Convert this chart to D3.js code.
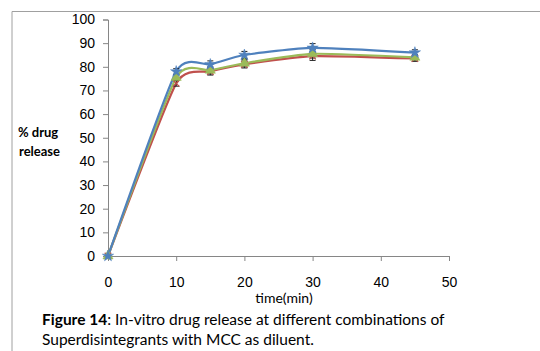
<!DOCTYPE html>
<html>
<head>
<meta charset="utf-8">
<script src="https://cdn.jsdelivr.net/npm/d3@7"></script>
<style>
  body { margin: 0; background: #fff; }
  svg { display: block; font-family: Lato, "Open Sans", sans-serif; }
</style>
</head>
<body>
<div id="plot"></div>
<script>
// data
const times = [0, 10, 15, 20, 30, 45];
const blueVals = [0, 78, 81, 85, 88, 86];
const redVals = [0, 73, 78, 81, 84.5, 83.5];
const greenVals = [0, 75.5, 78.5, 81.5, 85.5, 84];
const errVals = [0, 1.2, 1.5, 1.5, 1.8, 1.2];
const xTicks = [0, 10, 20, 30, 40, 50];
const yTicks = [0, 10, 20, 30, 40, 50, 60, 70, 80, 90, 100];

const series = [
  {name: "blue", vals: blueVals, color: "#4F81BD", marker: "star"},
  {name: "red", vals: redVals, color: "#C0504D", marker: "cross"},
  {name: "green", vals: greenVals, color: "#9BBB59", marker: "triangle"}
];

const W = 540, H = 351;
const svg = d3.select("#plot").append("svg")
    .attr("width", W).attr("height", H);

// frame around the figure
svg.append("path")
    .attr("d", "M12,351 L12,11.5 L540,11.5")
    .attr("fill", "none")
    .attr("stroke", "#a0a0a0")
    .attr("stroke-width", 1);

const x = d3.scaleLinear().domain([0, 50]).range([108, 449]);
const y = d3.scaleLinear().domain([0, 100]).range([256, 19.5]);

// y axis
const yAxis = svg.append("g")
    .attr("transform", "translate(108,0)")
    .call(d3.axisLeft(y).tickValues(yTicks).tickSize(5).tickPadding(8));
// x axis
const xAxis = svg.append("g")
    .attr("transform", "translate(0,256)")
    .call(d3.axisBottom(x).tickValues(xTicks).tickSize(5).tickPadding(16));

[yAxis, xAxis].forEach(a => {
  a.select(".domain").attr("stroke", "#868686");
  a.selectAll(".tick line").attr("stroke", "#868686");
  a.selectAll(".tick text").attr("fill", "#000").style("font-size", "14px");
});

// axis titles
svg.append("text")
    .attr("x", 284).attr("y", 303)
    .attr("text-anchor", "middle")
    .style("font-size", "14px")
    .text("time(min)");

svg.append("text")
    .attr("x", 18).attr("y", 137)
    .style("font-size", "13px").style("font-weight", "bold")
    .text("% drug");
svg.append("text")
    .attr("x", 19).attr("y", 156)
    .style("font-size", "13px").style("font-weight", "bold")
    .text("release");

// caption
const cap = svg.append("text")
    .attr("x", 42).attr("y", 325)
    .style("font-size", "15.5px");
cap.append("tspan").style("font-weight", "bold").text("Figure 14");
cap.append("tspan").text(": In-vitro drug release at different combinations of");
svg.append("text")
    .attr("x", 42).attr("y", 345)
    .style("font-size", "15.5px")
    .text("Superdisintegrants with MCC as diluent.");

// lines
const line = d3.line()
    .x((d, i) => x(times[i]))
    .y(d => y(d))
    .curve(d3.curveCardinal.tension(0.45));

const order = [series[1], series[2], series[0]];
order.forEach(s => {
  svg.append("path")
      .datum(s.vals)
      .attr("fill", "none")
      .attr("stroke", s.color)
      .attr("stroke-width", 2.2)
      .attr("d", line);
});

// error bars
order.forEach(s => {
  const g = svg.append("g");
  s.vals.forEach((v, i) => {
    if (i === 0) return;
    const cx = x(times[i]);
    g.append("path")
        .attr("d", `M${cx - 3},${y(v + errVals[i])} H${cx + 3} M${cx},${y(v + errVals[i])} V${y(v - errVals[i])} M${cx - 3},${y(v - errVals[i])} H${cx + 3}`)
        .attr("stroke", "#222")
        .attr("stroke-width", 1)
        .attr("fill", "none");
  });
});

// markers
const starSym = d3.symbol().type(d3.symbolStar).size(40);
const triSym = d3.symbol().type(d3.symbolTriangle).size(45);
const crossSym = d3.symbol().type(d3.symbolTimes).size(30);
order.forEach(s => {
  svg.append("g").selectAll("path")
      .data(s.vals)
      .join("path")
      .attr("transform", (d, i) => `translate(${x(times[i])},${y(d)})`)
      .attr("d", s.marker === "star" ? starSym : s.marker === "triangle" ? triSym : crossSym)
      .attr("fill", s.marker === "cross" ? "none" : s.color)
      .attr("stroke", s.color)
      .attr("stroke-width", s.marker === "cross" ? 1.2 : 0.5);
});
</script>
</body>
</html>
